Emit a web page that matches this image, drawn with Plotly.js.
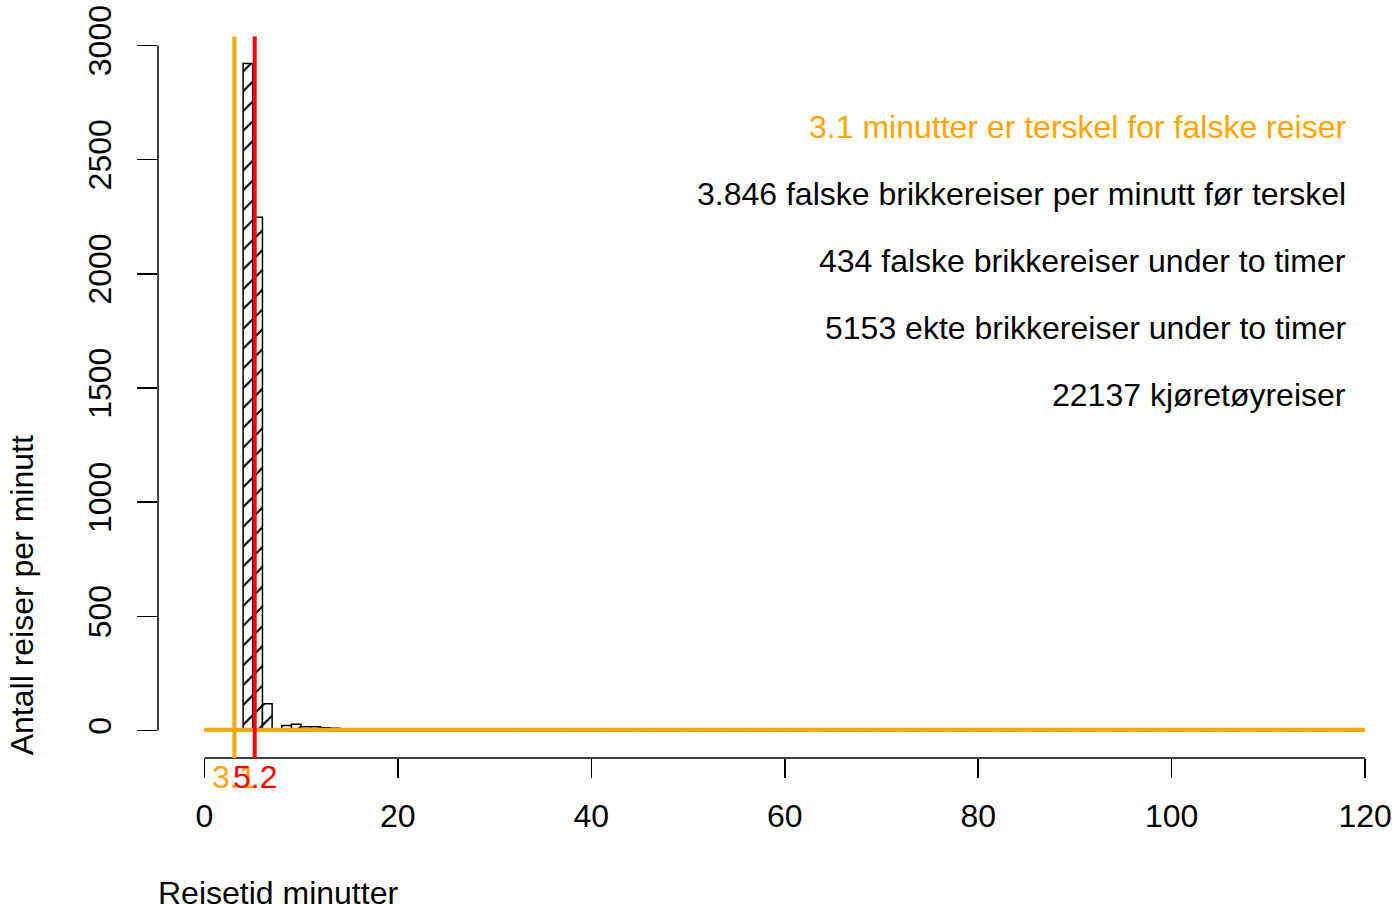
<!DOCTYPE html>
<html>
<head>
<meta charset="utf-8">
<script src="https://cdn.plot.ly/plotly-3.0.1.min.js"></script>
<style>html,body{margin:0;padding:0;background:#fff;}#chart{width:1394px;height:905px;}</style>
</head>
<body>
<div id="chart"></div>
<script>
// ---- data ----
const binStarts = [];
for (let m = 0; m < 120; m++) binStarts.push(m);
const binWidth = 1;
const tripCounts = [
  0, 0, 0, 0, 2921, 2248, 118, 0, 22, 28,
  17, 17, 12, 10, 6, 5, 4, 4, 7, 3,
  3, 2, 2, 1, 2, 1, 1, 2, 1, 1,
  2, 1, 0, 1, 1, 2, 1, 0, 1, 1,
  1, 0, 1, 1, 0, 1, 0, 1, 1, 0,
  1, 0, 1, 0, 1, 1, 0, 1, 0, 1,
  0, 1, 0, 0, 1, 0, 1, 0, 1, 0,
  1, 0, 0, 1, 0, 1, 0, 0, 1, 0,
  1, 0, 0, 1, 0, 0, 1, 0, 1, 0,
  0, 1, 0, 0, 1, 0, 0, 1, 0, 0,
  1, 0, 0, 1, 0, 0, 1, 0, 0, 1,
  0, 0, 1, 0, 0, 1, 0, 0, 1, 0
];
const falseThreshold = 3.1;
const falsePerMinute = 3.846;
const otherThreshold = 5.2;
const xTicks = [0, 20, 40, 60, 80, 100, 120];
const yTicks = [0, 500, 1000, 1500, 2000, 2500, 3000];
const infoLines = [
  "3.1 minutter er terskel for falske reiser",
  "3.846 falske brikkereiser per minutt før terskel",
  "434 falske brikkereiser under to timer",
  "5153 ekte brikkereiser under to timer",
  "22137 kjøretøyreiser"
];
const infoColors = ["#FFA500", "#000000", "#000000", "#000000", "#000000"];
const xTitle = "Reisetid minutter";
const yTitle = "Antall reiser per minutt";

// ---- chart ----
const FONT = "Liberation Sans, Arial, Helvetica, sans-serif";
const FS = 32;

const trace = {
  type: "bar",
  x: binStarts.map(b => b + binWidth / 2),
  y: tripCounts,
  width: binWidth,
  marker: {
    color: "#ffffff",
    line: {color: "#000000", width: 1.5},
    pattern: {shape: "/", fgcolor: "#000000", bgcolor: "#ffffff", size: 14, solidity: 0.15}
  },
  hoverinfo: "x+y",
  showlegend: false
};

const shapes = [
  // y axis line (from first to last tick)
  {type: "line", xref: "paper", yref: "y", x0: 0, x1: 0, y0: yTicks[0], y1: yTicks[yTicks.length - 1],
   line: {color: "#000", width: 1.5}},
  // x axis line (from first to last tick)
  {type: "line", xref: "x", yref: "paper", x0: xTicks[0], x1: xTicks[xTicks.length - 1], y0: 0, y1: 0,
   line: {color: "#000", width: 1.5}},
  // horizontal orange line: false trips per minute
  {type: "line", xref: "x", yref: "y", x0: xTicks[0], x1: xTicks[xTicks.length - 1], y0: falsePerMinute, y1: falsePerMinute,
   line: {color: "#FFA500", width: 4}},
  // vertical threshold lines
  {type: "line", xref: "x", yref: "paper", x0: falseThreshold, x1: falseThreshold, y0: 0, y1: 0.975,
   line: {color: "#FFA500", width: 4}},
  {type: "line", xref: "x", yref: "paper", x0: otherThreshold, x1: otherThreshold, y0: 0, y1: 0.975,
   line: {color: "#FF0000", width: 4}}
];

const annotations = [];
infoLines.forEach((t, i) => {
  annotations.push({
    text: t, xref: "paper", yref: "paper", x: 0.9628, y: 0.8523 - i * 0.0904,
    xanchor: "right", yanchor: "middle", showarrow: false,
    font: {family: FONT, size: FS, color: infoColors[i]}
  });
});
annotations.push({
  text: String(falseThreshold), xref: "x", yref: "paper", x: falseThreshold, y: -0.026,
  xanchor: "center", yanchor: "middle", showarrow: false,
  font: {family: FONT, size: FS, color: "#FFA500"}
});
annotations.push({
  text: String(otherThreshold), xref: "x", yref: "paper", x: otherThreshold, y: -0.026,
  xanchor: "center", yanchor: "middle", showarrow: false,
  font: {family: FONT, size: FS, color: "#FF0000"}
});
annotations.push({
  text: xTitle, xref: "paper", yref: "paper", x: -0.002, y: -0.182,
  xanchor: "left", yanchor: "middle", showarrow: false,
  font: {family: FONT, size: FS, color: "#000"}
});
annotations.push({
  text: yTitle, xref: "paper", yref: "paper", x: -0.11, y: 0.001,
  xanchor: "center", yanchor: "bottom", textangle: -90, showarrow: false,
  font: {family: FONT, size: FS, color: "#000"}
});

const layout = {
  width: 1394, height: 905,
  margin: {l: 157.6, r: 0, t: 17.6, b: 146.6, pad: 0},
  paper_bgcolor: "#fff", plot_bgcolor: "#fff",
  bargap: 0,
  xaxis: {
    range: [-4.8, 122.99], tickvals: xTicks, ticktext: xTicks.map(String),
    ticks: "outside", ticklen: 19, tickwidth: 1.5, tickcolor: "#000",
    showline: false, showgrid: false, zeroline: false,
    tickfont: {family: FONT, size: FS, color: "#000"}, ticklabelstandoff: 11
  },
  yaxis: {
    range: [-120, 3120], tickvals: yTicks, ticktext: yTicks.map(String),
    ticks: "outside", ticklen: 20, tickwidth: 1.5, tickcolor: "#000",
    showline: false, showgrid: false, zeroline: false, tickangle: -90,
    tickfont: {family: FONT, size: FS, color: "#000"}, ticklabelstandoff: 13
  },
  shapes: shapes,
  annotations: annotations,
  font: {family: FONT, size: FS, color: "#000"}
};

Plotly.newPlot("chart", [trace], layout, {displayModeBar: false, staticPlot: true});
</script>
</body>
</html>
